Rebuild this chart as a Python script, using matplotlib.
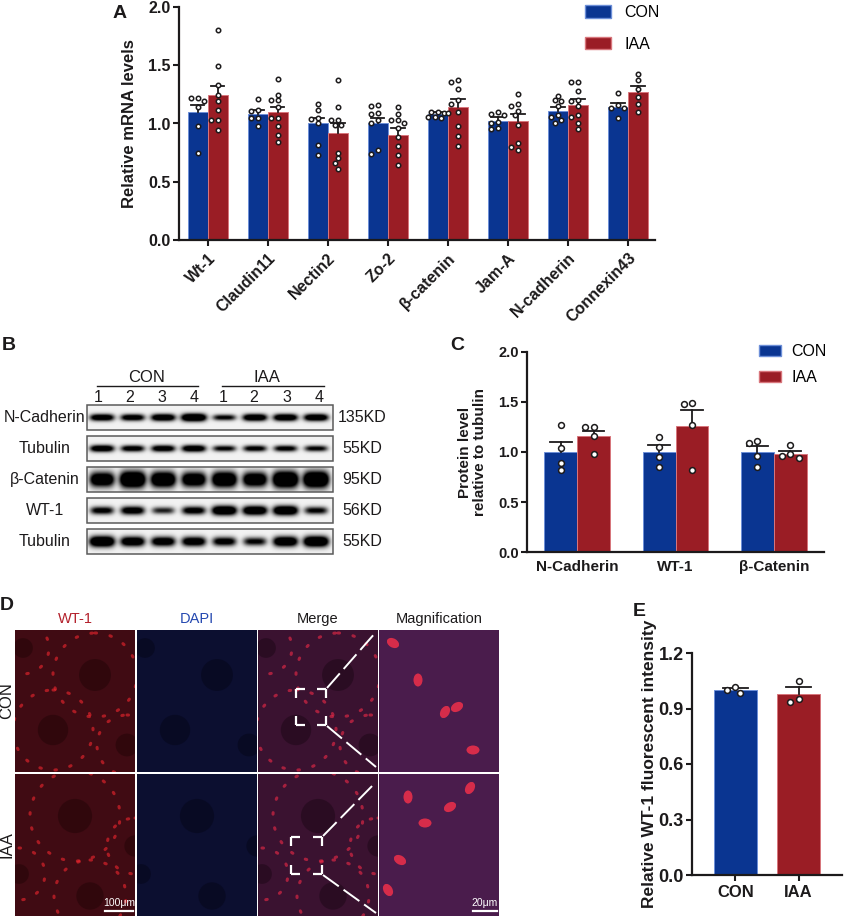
import numpy as np
import matplotlib
matplotlib.use("Agg")
import matplotlib.pyplot as plt
from matplotlib.patches import Rectangle, Patch, Circle, Ellipse

plt.rcParams['font.family'] = ['Liberation Sans', 'DejaVu Sans']

W, H = 844, 918
BLUE, BLUE_EDGE = "#0a3591", "#6d8fd8"
RED, RED_EDGE = "#9a1d25", "#d8767c"
INK = "#1c1a1b"

# ---------------- panel A: qPCR ----------------
genes = ["Wt-1", "Claudin11", "Nectin2", "Zo-2", "β-catenin", "Jam-A",
         "N-cadherin", "Connexin43"]
a_con_mean = [1.10, 1.08, 1.00, 1.00, 1.08, 1.025, 1.11, 1.14]
a_con_sem = [0.06, 0.04, 0.05, 0.05, 0.02, 0.03, 0.035, 0.04]
a_iaa_mean = [1.245, 1.10, 0.915, 0.905, 1.145, 1.025, 1.16, 1.27]
a_iaa_sem = [0.08, 0.045, 0.085, 0.06, 0.065, 0.055, 0.05, 0.05]
a_con_pts = [
    [1.22, 1.22, 1.19, 1.14, 0.98, 0.75],
    [1.21, 1.12, 1.11, 1.05, 1.05, 0.98],
    [1.17, 1.12, 1.05, 1.04, 1.00, 0.815, 0.73],
    [1.16, 1.15, 1.09, 1.08, 1.03, 1.00, 0.77, 0.74],
    [1.10, 1.10, 1.09, 1.09, 1.06, 1.06, 1.05],
    [1.10, 1.08, 1.07, 1.01, 1.00, 0.96, 0.95],
    [1.24, 1.20, 1.19, 1.15, 1.07, 1.06, 1.03, 1.00],
    [1.265, 1.16, 1.13, 1.13, 1.05],
]
a_iaa_pts = [
    [1.80, 1.49, 1.33, 1.245, 1.19, 1.115, 1.03, 1.03, 0.944],
    [1.38, 1.245, 1.20, 1.20, 1.14, 1.05, 1.05, 0.98, 0.90, 0.845],
    [1.37, 1.14, 1.03, 1.03, 0.99, 0.99, 0.75, 0.70, 0.66, 0.61],
    [1.14, 1.08, 1.03, 1.03, 1.00, 0.96, 0.88, 0.81, 0.73, 0.64],
    [1.37, 1.36, 1.30, 1.20, 1.17, 1.10, 0.98, 0.89, 0.81],
    [1.25, 1.17, 1.15, 1.11, 1.07, 0.99, 0.83, 0.80, 0.77],
    [1.36, 1.36, 1.28, 1.20, 1.19, 1.15, 1.07, 1.06, 1.00, 0.95],
    [1.425, 1.37, 1.30, 1.23, 1.17, 1.10],
]

# ---------------- panel B: western blot ----------------
blot_rows = ["N-Cadherin", "Tubulin", "β-Catenin", "WT-1", "Tubulin"]
blot_kd = ["135KD", "55KD", "95KD", "56KD", "55KD"]
lane_labels = ["1", "2", "3", "4", "1", "2", "3", "4"]
band_int = [
    [0.80, 0.75, 0.85, 1.00, 0.60, 0.85, 0.85, 0.85],
    [0.80, 0.70, 0.75, 0.80, 0.60, 0.65, 0.65, 0.60],
    [0.90, 1.10, 1.00, 0.90, 1.00, 0.90, 1.10, 1.10],
    [0.65, 0.75, 0.50, 0.70, 0.95, 0.90, 0.95, 0.60],
    [1.00, 0.85, 0.80, 0.80, 0.70, 0.60, 0.90, 1.00],
]

# ---------------- panel C: protein quantification ----------------
proteins = ["N-Cadherin", "WT-1", "β-Catenin"]
c_con_mean = [1.00, 1.00, 1.00]
c_con_sem = [0.10, 0.07, 0.06]
c_iaa_mean = [1.155, 1.263, 0.983]
c_iaa_sem = [0.055, 0.157, 0.03]
c_con_pts = [[1.27, 1.037, 0.887, 0.82], [1.147, 1.053, 0.953, 0.847],
             [1.11, 1.093, 0.963, 0.847]]
c_iaa_pts = [[1.247, 1.247, 1.163, 0.98], [1.477, 1.49, 1.27, 0.82],
             [1.07, 0.983, 0.963, 0.94]]

# ---------------- panel E: fluorescence ----------------
e_groups = ["CON", "IAA"]
e_mean = [1.00, 0.977]
e_sem = [0.009, 0.037]
e_pts = [[0.985, 1.014, 1.00], [0.934, 1.05, 0.951]]


def box(x0, y0, x1, y1):
    return [x0 / W, 1 - y1 / H, (x1 - x0) / W, (y1 - y0) / H]


def style_axis(ax, fs, xtick_len=4):
    for s in ("top", "right"):
        ax.spines[s].set_visible(False)
    for s in ("left", "bottom"):
        ax.spines[s].set_linewidth(1.6)
        ax.spines[s].set_color(INK)
    ax.tick_params(axis="y", direction="out", length=4, width=1.5,
                   labelsize=fs, colors=INK, pad=2)
    ax.tick_params(axis="x", direction="out", length=xtick_len, width=1.5,
                   labelsize=fs, colors=INK)
    for lbl in ax.get_xticklabels() + ax.get_yticklabels():
        lbl.set_fontweight("bold")


def swarm(vals, xpx, ypx, d):
    # simple beeswarm: nudge a point sideways only when it would overlap
    offs = np.zeros(len(vals))
    placed = []
    for i in np.argsort(vals)[::-1]:
        y = vals[i] * ypx
        for k in (0, -1, 1, -2, 2, -3, 3):
            xo = k * d * 0.6
            if all((xo - px) ** 2 + (y - py) ** 2 >= (0.9 * d) ** 2
                   for px, py in placed):
                break
        placed.append((xo, y))
        offs[i] = xo / xpx
    return offs


def bars(ax, xs, means, sems, pts, color, edge, width, cap, ms, scale):
    ax.bar(xs, means, width, color=color, edgecolor=edge, linewidth=0.7,
           zorder=2)
    xpx, ypx = scale
    for x, m, s, p in zip(xs, means, sems, pts):
        ax.plot([x, x], [m, m + s], color=INK, lw=1.3, zorder=3)
        ax.plot([x - cap, x + cap], [m + s, m + s], color=INK, lw=1.3,
                zorder=3)
        offs = swarm(np.array(p), xpx, ypx, ms * 1.39 + 1)
        ax.plot(x + offs, p, "o", ms=ms, mfc="white", mec=INK, mew=1.1,
                zorder=4, clip_on=False)


fig = plt.figure(figsize=(W / 100, H / 100), dpi=100)

# ---- A
axA = fig.add_axes(box(179, 7, 655, 240))
xA = np.arange(len(genes))
bw = 0.335
bars(axA, xA - bw / 2, a_con_mean, a_con_sem, a_con_pts, BLUE, BLUE_EDGE,
     bw, 0.11, 3.2, (60, 116.5))
bars(axA, xA + bw / 2, a_iaa_mean, a_iaa_sem, a_iaa_pts, RED, RED_EDGE,
     bw, 0.11, 3.2, (60, 116.5))
axA.set_xlim(-0.48, 7.45)
axA.set_ylim(0, 2.0)
axA.set_yticks([0, 0.5, 1.0, 1.5, 2.0])
axA.set_yticklabels(["0.0", "0.5", "1.0", "1.5", "2.0"])
axA.set_xticks(xA)
axA.set_xticklabels(genes, rotation=45, ha="right", rotation_mode="anchor")
axA.set_ylabel("Relative mRNA levels", fontsize=12, fontweight="bold",
               color=INK, labelpad=8)
style_axis(axA, 11.5)
hA = [Patch(facecolor=BLUE, edgecolor=BLUE_EDGE),
      Patch(facecolor=RED, edgecolor=RED_EDGE)]
axA.legend(hA, ["CON", "IAA"], loc="upper left",
           bbox_to_anchor=(585 / W, 1 - 5 / H), bbox_transform=fig.transFigure,
           frameon=False, fontsize=11.5, handlelength=1.6, handleheight=0.8,
           handletextpad=0.85, labelspacing=1.05, borderpad=0,
           borderaxespad=0)

# ---- C
axC = fig.add_axes(box(527, 352, 824, 552))
xC = np.arange(len(proteins))
bars(axC, xC - bw / 2, c_con_mean, c_con_sem, c_con_pts, BLUE, BLUE_EDGE,
     bw, 0.11, 4.2, (98.5, 100))
bars(axC, xC + bw / 2, c_iaa_mean, c_iaa_sem, c_iaa_pts, RED, RED_EDGE,
     bw, 0.11, 4.2, (98.5, 100))
axC.set_xlim(-0.51, 2.51)
axC.set_ylim(0, 2.0)
axC.set_yticks([0, 0.5, 1.0, 1.5, 2.0])
axC.set_yticklabels(["0.0", "0.5", "1.0", "1.5", "2.0"])
axC.set_xticks(xC)
axC.set_xticklabels(proteins)
axC.set_ylabel("Protein level\nrelative to tubulin", fontsize=11,
               fontweight="bold", color=INK, labelpad=8, linespacing=1.05)
style_axis(axC, 11, xtick_len=0)
axC.tick_params(axis="y", labelsize=10.5)
axC.tick_params(axis="x", pad=6)
axC.legend(hA, ["CON", "IAA"], loc="upper left",
           bbox_to_anchor=(759 / W, 1 - 344 / H), bbox_transform=fig.transFigure,
           frameon=False, fontsize=11.5, handlelength=1.35, handleheight=0.75,
           handletextpad=0.7, labelspacing=0.7, borderpad=0, borderaxespad=0)

# ---- E
axE = fig.add_axes(box(692, 653, 842, 875))
xE = np.arange(len(e_groups))
bars(axE, xE, e_mean, e_sem, e_pts, [BLUE, RED], [BLUE_EDGE, RED_EDGE],
     0.667, 0.2, 4.2, (63, 185))
axE.set_xlim(-0.69, 1.69)
axE.set_ylim(0, 1.2)
axE.set_yticks([0, 0.3, 0.6, 0.9, 1.2])
axE.set_yticklabels(["0.0", "0.3", "0.6", "0.9", "1.2"])
axE.set_xticks(xE)
axE.set_xticklabels(e_groups)
axE.set_ylabel("Relative WT-1 fluorescent intensity", fontsize=12.5,
               fontweight="bold", color=INK, labelpad=1)
style_axis(axE, 13)
axE.tick_params(axis="x", labelsize=12)
for lbl in axE.get_xticklabels():
    lbl.set_fontweight("bold")

# ---- overlay in pixel coordinates: panel letters, blot, micrographs
ov = fig.add_axes([0, 0, 1, 1], facecolor="none")
ov.axis("off")

for letter, x, y in [("A", 113, 14), ("B", 2, 346), ("C", 450, 346),
                     ("D", 0, 606), ("E", 633, 611)]:
    ov.text(x, y, letter, fontsize=14, fontweight="bold", color=INK,
            va="center", ha="left")

# blot
bx0, bx1, bh = 87, 333, 25
blot_top = [405, 436, 467, 498, 529]
lane_x = [102 + 30.6 * i for i in range(8)]
smear = [0.8, 0.8, 1.6, 1.0, 1.1]
xs = np.linspace(bx0, bx1, (bx1 - bx0) * 3)
ys = np.linspace(0, bh, bh * 3)
X, Y = np.meshgrid(xs, ys)
for r, top in enumerate(blot_top):
    img = np.zeros_like(X)
    for cx, v in zip(lane_x, band_int[r]):
        hw = 10 + 2.5 * v
        hh = (2.2 + 2.6 * v) * smear[r]
        img += v * np.exp(-np.abs((X - cx) / hw) ** 4) * \
            np.exp(-((Y - bh / 2) / hh) ** 2)
    img = np.clip(img * 1.8, 0, 1) * 0.95 + 0.05
    ov.imshow(img, cmap="gray_r", vmin=0, vmax=1, aspect="auto",
              extent=(bx0, bx1, top + bh, top), interpolation="bilinear",
              zorder=1)
    ov.add_patch(Rectangle((bx0, top), bx1 - bx0, bh, fill=False,
                           ec="#5a5a5a", lw=1.1, zorder=2))
    ov.text(45, top + bh / 2, blot_rows[r], fontsize=11.5, ha="center",
            va="center", color=INK)
    ov.text(362, top + bh / 2, blot_kd[r], fontsize=11.5, ha="center",
            va="center", color=INK)
for x, lab in zip([98, 130, 162, 194, 223, 254, 287, 319], lane_labels):
    ov.text(x, 397, lab, fontsize=11.5, ha="center", va="center", color=INK)
ov.text(147, 377, "CON", fontsize=12, ha="center", va="center", color=INK)
ov.text(267, 377, "IAA", fontsize=12, ha="center", va="center", color=INK)
ov.plot([97, 198], [386, 386], color=INK, lw=1.0)
ov.plot([222, 324], [386, 386], color=INK, lw=1.0)

# micrographs: tinted fields with faint tubule outlines (illustrative only)
cols_x = [(15, 135), (137, 257), (258, 378), (379, 499)]
rows_y = [(630, 772), (774, 916)]
tints = ["#400b13", "#0c0f30", "#3a1230", "#4a1c4c"]
tubules = [
    [(80, 45, 42), (38, 100, 40), (112, 115, 30), (8, 18, 26)],
    [(60, 42, 45), (75, 122, 36), (120, 72, 28), (4, 100, 26)],
]
mag_cells = [
    [(39, 50), (66, 82), (78, 77), (94, 120), (14, 13)],
    [(29, 23), (91, 14), (71, 33), (46, 49), (21, 86), (9, 116)],
]
lumen_c = ["#230508", "#05061a", "#1e0818"]
ring_c = ["#f0262e", None, "#f02a48"]
for (y0, y1), tubs, cells in zip(rows_y, tubules, mag_cells):
    for ci, ((x0, x1), c) in enumerate(zip(cols_x, tints)):
        frame = Rectangle((x0, y0), x1 - x0, y1 - y0, fc=c, ec="none")
        ov.add_patch(frame)
        if ci == 3:
            for k, (cx, cy) in enumerate(cells):
                cell = Ellipse((x0 + cx, y0 + cy), 9, 13, angle=30 * k,
                               fc="#f0304a", ec="none", alpha=0.85)
                ov.add_patch(cell)
                cell.set_clip_path(frame)
            continue
        for tx, ty, tr in tubs:
            lum = Circle((x0 + tx, y0 + ty), tr * 0.38, fc=lumen_c[ci],
                         ec="none", alpha=0.55)
            ov.add_patch(lum)
            lum.set_clip_path(frame)
            if ring_c[ci]:
                ring = Circle((x0 + tx, y0 + ty), tr, fill=False,
                              ec=ring_c[ci], lw=2.2, ls=(0, (0.5, 4.5)),
                              capstyle="round", alpha=0.6)
                ov.add_patch(ring)
                ring.set_clip_path(frame)
for (x0, x1), name, col in zip(cols_x, ["WT-1", "DAPI", "Merge", "Magnification"],
                               ["#b3202b", "#2448b0", INK, INK]):
    ov.text((x0 + x1) / 2, 619, name, fontsize=10.5, ha="center",
            va="center", color=col)
ov.text(7, 701, "CON", fontsize=12, rotation=90, ha="center", va="center",
        color=INK)
ov.text(7, 845, "IAA", fontsize=12, rotation=90, ha="center", va="center",
        color=INK)


def zoom_box(x0, y0, x1, y1, y_top, y_bot):
    L = 9
    for cx, cy, sx, sy in [(x0, y0, 1, 1), (x1, y0, -1, 1), (x0, y1, 1, -1),
                           (x1, y1, -1, -1)]:
        ov.plot([cx, cx + sx * L], [cy, cy], color="white", lw=1.6,
                solid_capstyle="butt")
        ov.plot([cx, cx], [cy, cy + sy * L], color="white", lw=1.6,
                solid_capstyle="butt")
    ov.plot([x1 + 1, 376], [y0 - 1, y_top], color="white", lw=1.4,
            ls=(0, (10, 3)))
    ov.plot([x1 + 1, 376], [y1 + 1, y_bot], color="white", lw=1.4,
            ls=(0, (10, 3)))


zoom_box(296, 689, 326, 725, 632, 767)
zoom_box(291, 837, 322, 874, 782, 913)

ov.plot([105, 133], [911, 911], color="white", lw=1.6)
ov.text(119, 903, "100μm", fontsize=7.5, ha="center", va="center",
        color="white")
ov.plot([473, 497], [911, 911], color="white", lw=1.6)
ov.text(485, 903, "20μm", fontsize=7.5, ha="center", va="center",
        color="white")

ov.set_xlim(0, W)
ov.set_ylim(H, 0)

fig.savefig("out.png", dpi=100)
